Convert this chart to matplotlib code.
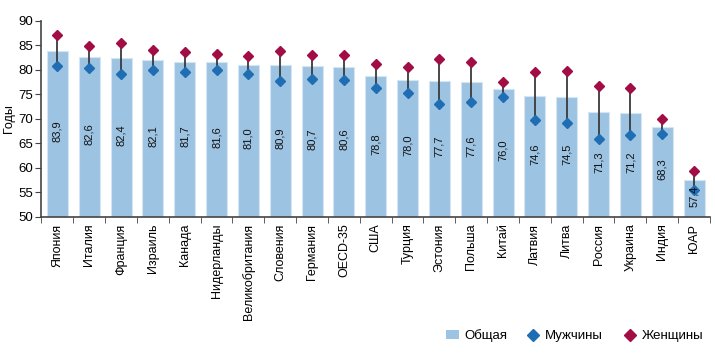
import matplotlib
matplotlib.use("Agg")
import matplotlib.pyplot as plt
from matplotlib.lines import Line2D
from matplotlib.patches import Patch
import numpy as np

plt.rcParams['font.family'] = ['Liberation Sans', 'DejaVu Sans']

# data
countries = ["Япония", "Италия", "Франция", "Израиль", "Канада", "Нидерланды",
             "Великобритания", "Словения", "Германия", "OECD-35", "США", "Турция",
             "Эстония", "Польша", "Китай", "Латвия", "Литва", "Россия", "Украина",
             "Индия", "ЮАР"]
total = [83.9, 82.6, 82.4, 82.1, 81.7, 81.6, 81.0, 80.9, 80.7, 80.6, 78.8, 78.0,
         77.7, 77.6, 76.0, 74.6, 74.5, 71.3, 71.2, 68.3, 57.4]
men = [80.8, 80.3, 79.2, 80.0, 79.6, 79.9, 79.2, 77.7, 78.2, 77.9, 76.2, 75.3,
       73.1, 73.4, 74.4, 69.7, 69.1, 65.8, 66.7, 66.9, 55.4]
women = [87.1, 84.9, 85.4, 84.1, 83.7, 83.2, 82.8, 83.9, 83.1, 83.1, 81.2, 80.6,
         82.2, 81.5, 77.5, 79.5, 79.7, 76.6, 76.2, 69.9, 59.4]

bar_color = "#9dc3e2"
men_color = "#1f6db3"
women_color = "#a30d45"
ymin = 50

fig = plt.figure(figsize=(7.15, 3.54), dpi=100)
ax = fig.add_axes([0.058, 0.388, 0.935, 0.553])

x = np.arange(len(countries))
ax.bar(x, np.array(total) - ymin, bottom=ymin, width=0.66, color=bar_color,
       edgecolor="#d4e5f3", linewidth=0.8, zorder=2)

# men-women connecting lines and markers
for i in range(len(x)):
    ax.plot([x[i], x[i]], [men[i], women[i]], color="#3a3a3a", lw=1.3, zorder=3)
ax.plot(x, men, linestyle="none", marker="D", markersize=5.5, color=men_color, zorder=4)
ax.plot(x, women, linestyle="none", marker="D", markersize=5.5, color=women_color, zorder=4)

# value labels inside bars
for i in range(len(x)):
    mid = (ymin + total[i]) / 2 + 0.5
    ax.text(x[i], mid, ("%.1f" % total[i]).replace(".", ","), rotation=90,
            ha="center", va="center", fontsize=8, color="#111111", zorder=5)

ax.set_ylim(50, 90)
ax.set_yticks(np.arange(50, 91, 5))
ax.set_xlim(-0.5, len(x) - 0.5)
ax.set_xticks(x)
ax.set_xticklabels(countries, rotation=90, fontsize=9)
ax.set_xticks(np.arange(-0.5, len(x), 1), minor=True)
ax.tick_params(axis="x", which="major", length=0, pad=5)
ax.tick_params(axis="x", which="minor", length=4, color="#444444")
ax.tick_params(axis="y", labelsize=9.5, length=4, pad=2, color="#444444")
fig.text(0.013, 0.665, "Годы", rotation=90, ha="center", va="center", fontsize=9)

for s in ["top", "right"]:
    ax.spines[s].set_visible(False)
for s in ["left", "bottom"]:
    ax.spines[s].set_color("#444444")
    ax.spines[s].set_linewidth(1.2)

handles = [Patch(facecolor=bar_color, edgecolor="none", label="Общая"),
           Line2D([], [], linestyle="none", marker="D", markersize=6, color=men_color, label="Мужчины"),
           Line2D([], [], linestyle="none", marker="D", markersize=6, color=women_color, label="Женщины")]
fig.legend(handles=handles, loc="lower right", bbox_to_anchor=(1.0, 0.0), ncol=3,
           frameon=False, fontsize=9.5, handlelength=1.0, handletextpad=0.4,
           columnspacing=1.5)

fig.savefig("out.png", dpi=100)
